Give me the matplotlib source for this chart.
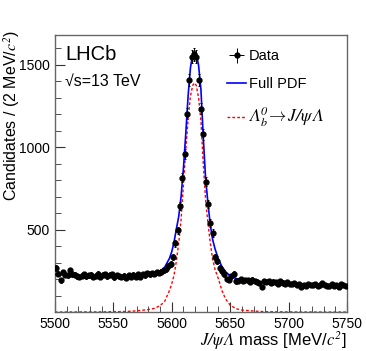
import numpy as np
from matplotlib import pyplot as plt

plt.rcParams['font.family'] = ['Liberation Sans', 'DejaVu Sans']
plt.rcParams['mathtext.fontset'] = 'custom'
plt.rcParams['mathtext.rm'] = 'STIXGeneral:italic'
plt.rcParams['mathtext.it'] = 'STIXGeneral:italic'

# data: bin centres (2 MeV bins) and candidates per bin
mass_bins = np.arange(5501, 5750, 2)
counts = [
    268, 232, 192, 240, 226, 224, 252, 228, 225, 218,
    212, 220, 230, 216, 224, 226, 212, 220, 232, 214,
    225, 230, 218, 226, 228, 210, 222, 218, 212, 220,
    208, 222, 212, 226, 214, 230, 212, 228, 222, 234,
    228, 236, 232, 240, 238, 245, 252, 262, 278, 292,
    335, 418, 495, 644, 815, 960, 1204, 1406, 1548, 1565,
    1550, 1406, 1234, 1079, 791, 656, 539, 479, 335, 307,
    267, 247, 228, 201, 196, 216, 233, 186, 190, 200,
    188, 195, 192, 182, 196, 188, 184, 176, 152, 186,
    182, 188, 176, 184, 180, 172, 186, 178, 168, 180,
    172, 168, 174, 162, 170, 154, 166, 160, 172, 164,
    162, 170, 158, 164, 174, 166, 160, 156, 168, 160,
    164, 154, 170, 162, 156,
]

# fit curves
curve_mass = [5500, 5520, 5540, 5560, 5570, 5580, 5585, 5590, 5594, 5598,
              5600, 5602, 5604, 5606, 5608, 5610, 5612, 5614, 5616, 5618,
              5619.5, 5621, 5623, 5625, 5627, 5629, 5631, 5633, 5635, 5637,
              5640, 5643, 5646, 5650, 5655, 5660, 5670, 5680, 5700, 5720, 5750]
full_pdf = [228, 220, 214, 212, 214, 222, 230, 248, 272, 325,
            365, 425, 505, 580, 700, 870, 1080, 1310, 1480, 1570,
            1582, 1568, 1495, 1350, 1060, 810, 660, 530, 440, 385,
            320, 275, 245, 220, 204, 194, 186, 181, 172, 166, 156]
signal = [0, 0.5, 1, 3, 7, 15, 22, 38, 65, 130,
          170, 225, 310, 420, 560, 770, 980, 1170, 1310, 1375,
          1390, 1375, 1300, 1160, 900, 680, 540, 420, 320, 260,
          200, 130, 80, 42, 20, 12, 6, 2, 0.5, 0, 0]

fig = plt.figure(figsize=(3.66, 3.51), dpi=100)
ax = fig.add_axes([0.150, 0.111, 0.798, 0.789])

ax.plot(curve_mass, signal, color='red', lw=1.0, ls=(0, (2, 1.5)), zorder=2)
ax.plot(curve_mass, full_pdf, color='blue', lw=1.2, zorder=3)
ax.errorbar(mass_bins, counts, xerr=1, yerr=np.sqrt(counts), fmt='o',
            color='black', ms=3.5, elinewidth=0.7, capsize=1, capthick=0.7,
            zorder=4)

ax.set_xlim(5500, 5750)
ax.set_ylim(0, 1680)
ax.set_xticks([5500, 5550, 5600, 5650, 5700, 5750])
ax.set_xticks(np.arange(5500, 5751, 10), minor=True)
ax.set_yticks([500, 1000, 1500])
ax.set_yticks(np.arange(0, 1680, 100), minor=True)
ax.tick_params(which='both', direction='in', top=False, right=False,
               labelsize=10, color='#333333')
ax.tick_params(which='major', length=7)
ax.tick_params(which='minor', length=4)
for s in ax.spines.values():
    s.set_color('#666666')
    s.set_linewidth(1.0)

ax.set_ylabel(r'Candidates / (2 MeV/$c^2$)', fontsize=11.5, loc='top')
ax.yaxis.set_label_coords(-0.112, 1.02)
ax.set_xlabel(r'$J/\psi\,\Lambda$ mass [MeV/$c^2$]', fontsize=12,
              loc='right', labelpad=-1)

ax.text(0.035, 0.965, 'LHCb', transform=ax.transAxes, fontsize=14.5, va='top')
ax.text(0.035, 0.86, '\u221as=13 TeV', transform=ax.transAxes, fontsize=11.5,
        va='top')

h_data = ax.errorbar([], [], xerr=[], yerr=[], fmt='o', color='black', ms=3.5,
                     elinewidth=0.7)
h_full, = ax.plot([], [], color='blue', lw=1.2)
h_sig, = ax.plot([], [], color='red', lw=1.0, ls=(0, (2, 1.5)))
leg = ax.legend([h_data, h_full, h_sig],
                ['Data', 'Full PDF', r'$\Lambda_b^0\!\rightarrow J/\psi\,\Lambda$'],
                loc='upper left', bbox_to_anchor=(0.56, 0.98), frameon=False,
                fontsize=10.5, handlelength=1.3, handletextpad=0.2,
                labelspacing=0.95, borderaxespad=0.2)
leg.get_texts()[2].set_fontsize(12.5)

fig.savefig('out.png', dpi=100)
